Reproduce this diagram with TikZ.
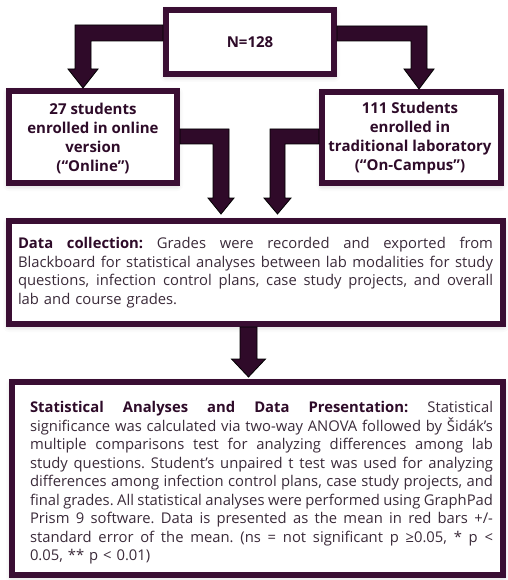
\documentclass[tikz,border=0pt]{standalone}
\usepackage{fontspec}
\setmainfont{Open Sans}
\usetikzlibrary{calc,shadows.blur}
\definecolor{boxpurple}{HTML}{3A0E33}
\definecolor{arrowpurple}{HTML}{2F0A29}
\definecolor{bodytext}{HTML}{3B2B3A}
\definecolor{headtext}{HTML}{2E0B29}
\setlength{\parindent}{0pt}
\newcommand{\JustLine}[2]{\leavevmode\hbox to #1{\spaceskip=0.26em plus 3em minus 0.08em\relax#2}}
\begin{document}
\begin{tikzpicture}[x=1pt,y=-1pt,
  boxnode/.style={draw=boxpurple, line width=6pt, fill=white, inner sep=0pt, outer sep=0pt,
    blur shadow={shadow xshift=0pt, shadow yshift=-2pt, shadow blur radius=6pt, shadow opacity=25}},
  blockarrow/.style={fill=arrowpurple, draw=black, line width=0.8pt, line join=miter},
  bodytxt/.style={inner sep=0pt, align=left, text=bodytext, font=\fontsize{14.8}{18.5}\selectfont\frenchspacing},
  headtxt/.style={inner sep=0pt, align=center, text=headtext, font=\fontsize{15}{19}\selectfont\bfseries}]
\useasboundingbox (0,0) rectangle (507,580);

\node[boxnode, minimum width=168pt, minimum height=64pt] (top) at (250,42) {};
\node[boxnode, minimum width=168pt, minimum height=92pt] (left) at (93,137) {};
\node[boxnode, minimum width=179pt, minimum height=91pt] (right) at (411.5,137.5) {};
\node[boxnode, minimum width=494pt, minimum height=103pt] (data) at (256,272.5) {};
\node[boxnode, minimum width=491pt, minimum height=193pt] (stat) at (257.5,478.5) {};

\node[headtxt] (ntxt) at (top.center) {N=128};
\node[headtxt] (lefttxt) at (93,138) {27 students\\enrolled in online\\version\\(“Online”)};
\node[headtxt] (righttxt) at (410,138) {111 Students\\enrolled in\\traditional laboratory\\(“On-Campus”)};

\node[bodytxt, text width=475pt] (datatxt) at (255.5,272.5) {%
\JustLine{475pt}{\textcolor{headtext}{\bfseries Data collection:} Grades were recorded and exported from}\\
\JustLine{475pt}{Blackboard for statistical analyses between lab modalities for study}\\
\JustLine{475pt}{questions, infection control plans, case study projects, and overall}\\
lab and course grades.};

\node[bodytxt, text width=463pt] (stattxt) at (261.5,483) {%
\JustLine{463pt}{\textcolor{headtext}{\bfseries Statistical Analyses and Data Presentation:} Statistical}\\
\JustLine{463pt}{significance was calculated via two-way ANOVA followed by Šidák’s}\\
\JustLine{463pt}{multiple comparisons test for analyzing differences among lab}\\
\JustLine{463pt}{study questions. Student’s unpaired t test was used for analyzing}\\
\JustLine{463pt}{differences among infection control plans, case study projects, and}\\
\JustLine{463pt}{final grades. All statistical analyses were performed using GraphPad}\\
\JustLine{463pt}{Prism 9 software. Data is presented as the mean in red bars +/-}\\
\JustLine{463pt}{standard error of the mean. (ns = not significant p ≥0.05, * p <}\\
0.05, ** p < 0.01)};

% top-left arrow
\draw[blockarrow] let \p1=($(top.west)+(-3,-9)$), \p2=($(left.north)+(-10,-3)$) in
 (\x1,\y1+8pt) -- (\x2-8pt,\y1+8pt) -- (\x2-8pt,\y2+19pt) -- (\x2-15pt,\y2+19pt) -- (\x2,\y2)
 -- (\x2+15pt,\y2+19pt) -- (\x2+8pt,\y2+19pt) -- (\x2+8pt,\y1-8pt) -- (\x1,\y1-8pt) -- cycle;
% top-right arrow
\draw[blockarrow] let \p1=($(top.east)+(3,-8.5)$), \p2=($(right.north)+(7.5,-3)$) in
 (\x1,\y1+7.5pt) -- (\x2+8pt,\y1+7.5pt) -- (\x2+8pt,\y2+20pt) -- (\x2+15pt,\y2+20pt) -- (\x2,\y2)
 -- (\x2-15pt,\y2+20pt) -- (\x2-8pt,\y2+20pt) -- (\x2-8pt,\y1-7.5pt) -- (\x1,\y1-7.5pt) -- cycle;
% middle-left arrow
\draw[blockarrow] let \p1=($(left.east)+(3,-0.5)$), \p2=($(data.north)+(-35,-7)$) in
 (\x1,\y1+7.5pt) -- (\x2+8pt,\y1+7.5pt) -- (\x2+8pt,\y2+16pt) -- (\x2+13pt,\y2+16pt) -- (\x2,\y2)
 -- (\x2-13pt,\y2+16pt) -- (\x2-8pt,\y2+16pt) -- (\x2-8pt,\y1-7.5pt) -- (\x1,\y1-7.5pt) -- cycle;
% middle-right arrow
\draw[blockarrow] let \p1=($(right.west)+(-3,-1)$), \p2=($(data.north)+(21.5,-7)$) in
 (\x1,\y1+7.5pt) -- (\x2-7.5pt,\y1+7.5pt) -- (\x2-7.5pt,\y2+16pt) -- (\x2-13.5pt,\y2+16pt) -- (\x2,\y2)
 -- (\x2+13.5pt,\y2+16pt) -- (\x2+7.5pt,\y2+16pt) -- (\x2+7.5pt,\y1-7.5pt) -- (\x1,\y1-7.5pt) -- cycle;
% bottom arrow
\draw[blockarrow] let \p1=($(data.south)+(-7.5,3)$), \p2=($(stat.north)+(-9,-5)$) in
 (\x1-8.5pt,\y1) -- (\x1-8.5pt,\y2+18pt) -- (\x1-17pt,\y2+18pt) -- (\x2,\y2)
 -- (\x1+17pt,\y2+18pt) -- (\x1+8.5pt,\y2+18pt) -- (\x1+8.5pt,\y1) -- cycle;
\end{tikzpicture}
\end{document}
